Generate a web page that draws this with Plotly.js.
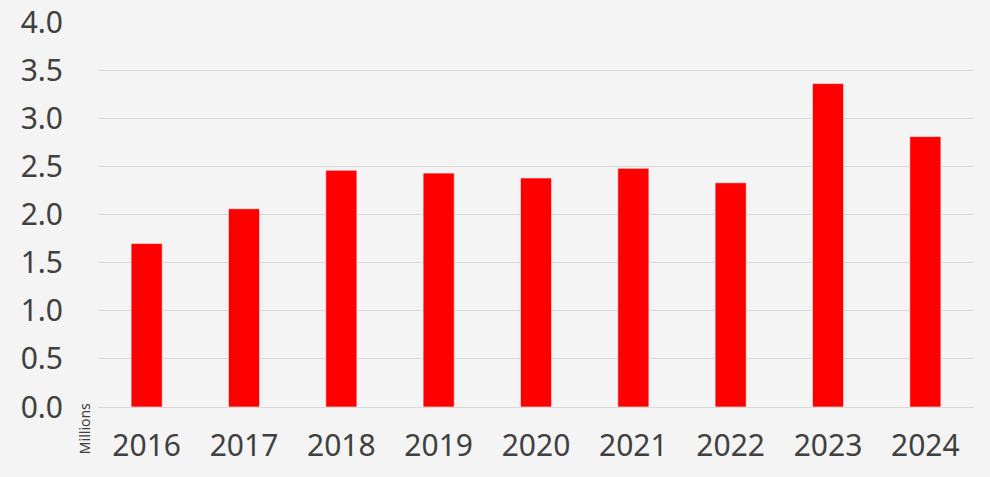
<!DOCTYPE html>
<html><head><meta charset="utf-8">
<script src="https://cdn.plot.ly/plotly-3.0.1.min.js"></script>
<style>html,body{margin:0;padding:0;background:#f4f4f4}#c{width:990px;height:477px;outline:1px solid #d9d9d9;outline-offset:-1px}</style>
</head><body><div id="c"></div>
<script>
const years = ["2016","2017","2018","2019","2020","2021","2022","2023","2024"];
const values = [1.70, 2.06, 2.46, 2.43, 2.38, 2.48, 2.33, 3.36, 2.81];
const yTicks = [0,0.5,1,1.5,2,2.5,3,3.5,4];
const yTickText = ["0.0","0.5","1.0","1.5","2.0","2.5","3.0","3.5","4.0"];
const unitLabel = "Millions";

const font = {family:"Noto Sans, Open Sans, sans-serif", size:30, color:"#404040"};
Plotly.newPlot("c",[{
  type:"bar", x:years, y:values,
  marker:{color:"#ff0000", line:{color:"rgba(255,255,255,0.6)", width:1}},
  hoverinfo:"skip"
}],{
  width:990, height:477,
  margin:{l:98,r:16,t:22,b:70},
  paper_bgcolor:"#f4f4f4", plot_bgcolor:"#f4f4f4",
  bargap:0.68,
  showlegend:false,
  font:font,
  xaxis:{type:"category", tickfont:font, showgrid:false, zeroline:false, showline:false, ticks:"", ticklabelstandoff:18},
  yaxis:{range:[0,4], tickvals:yTicks, ticktext:yTickText, tickfont:font, gridcolor:"#d9d9d9", gridwidth:1, zeroline:true, zerolinecolor:"#d9d9d9", zerolinewidth:1, showline:false, ticks:"", ticklabelstandoff:34},
  annotations:[{xref:"paper", yref:"paper", x:-0.0155, y:0.015, text:unitLabel, textangle:-90, showarrow:false, xanchor:"center", yanchor:"top", font:{family:"Noto Sans, sans-serif", size:14, color:"#404040"}}]
},{staticPlot:true, displayModeBar:false});
</script></body></html>
